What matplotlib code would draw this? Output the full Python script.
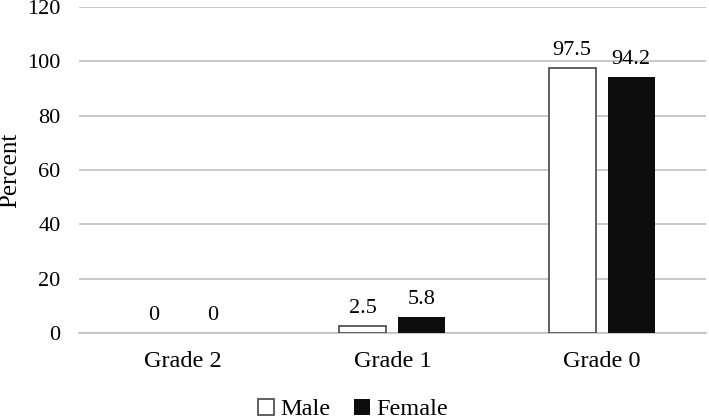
import numpy as np
import matplotlib
matplotlib.use('Agg')
import matplotlib.pyplot as plt

grades = ['Grade 2', 'Grade 1', 'Grade 0']
male = [0, 2.5, 97.5]
female = [0, 5.8, 94.2]
male_labels = ['0', '2.5', '97.5']
female_labels = ['0', '5.8', '94.2']

plt.rcParams['font.family'] = ['Liberation Serif', 'DejaVu Serif']

fig = plt.figure(figsize=(7.09, 4.19), dpi=100)
ax = fig.add_axes([0.111, 0.205, 0.885, 0.778])

x = np.arange(len(grades))
w = 0.225
off = 0.141

# zero-height bars are not drawn in the original
male_lw = [0 if v == 0 else 1.2 for v in male]
b1 = ax.bar(x - off, male, w, color='white', edgecolor='#454545', linewidth=male_lw, label='Male', zorder=3)
b2 = ax.bar(x + off, female, w, color='#0d0d0d', edgecolor='#0d0d0d', linewidth=0, label='Female', zorder=3)

ax.bar_label(b1, labels=male_labels, padding=6, fontsize=16)
ax.bar_label(b2, labels=female_labels, padding=6, fontsize=16)

ax.set_xlim(-0.5, 2.5)
ax.set_ylim(0, 120)
ax.set_yticks(range(0, 121, 20))
ax.set_xticks(x)
ax.set_xticklabels(grades)
ax.tick_params(axis='x', labelsize=17.5, length=0, pad=13)
ax.tick_params(axis='y', labelsize=16, length=0, pad=13)
ax.yaxis.grid(True, color='#bfbfbf', linewidth=1.2, zorder=0)
for s in ['top', 'right', 'left']:
    ax.spines[s].set_visible(False)
ax.spines['bottom'].set_color('#bfbfbf')
ax.spines['bottom'].set_linewidth(1.2)
ax.set_ylabel('Percent', fontsize=18)
ax.yaxis.set_label_coords(-0.092, 0.5)

fig.legend(handles=[b1.patches[1], b2.patches[1]], labels=['Male', 'Female'],
           loc='lower center', bbox_to_anchor=(0.498, -0.055), ncol=2, frameon=False,
           fontsize=17.5, handlelength=0.65, handleheight=0.65, handletextpad=0.25, columnspacing=1.0)

fig.savefig('out.png', dpi=100)
